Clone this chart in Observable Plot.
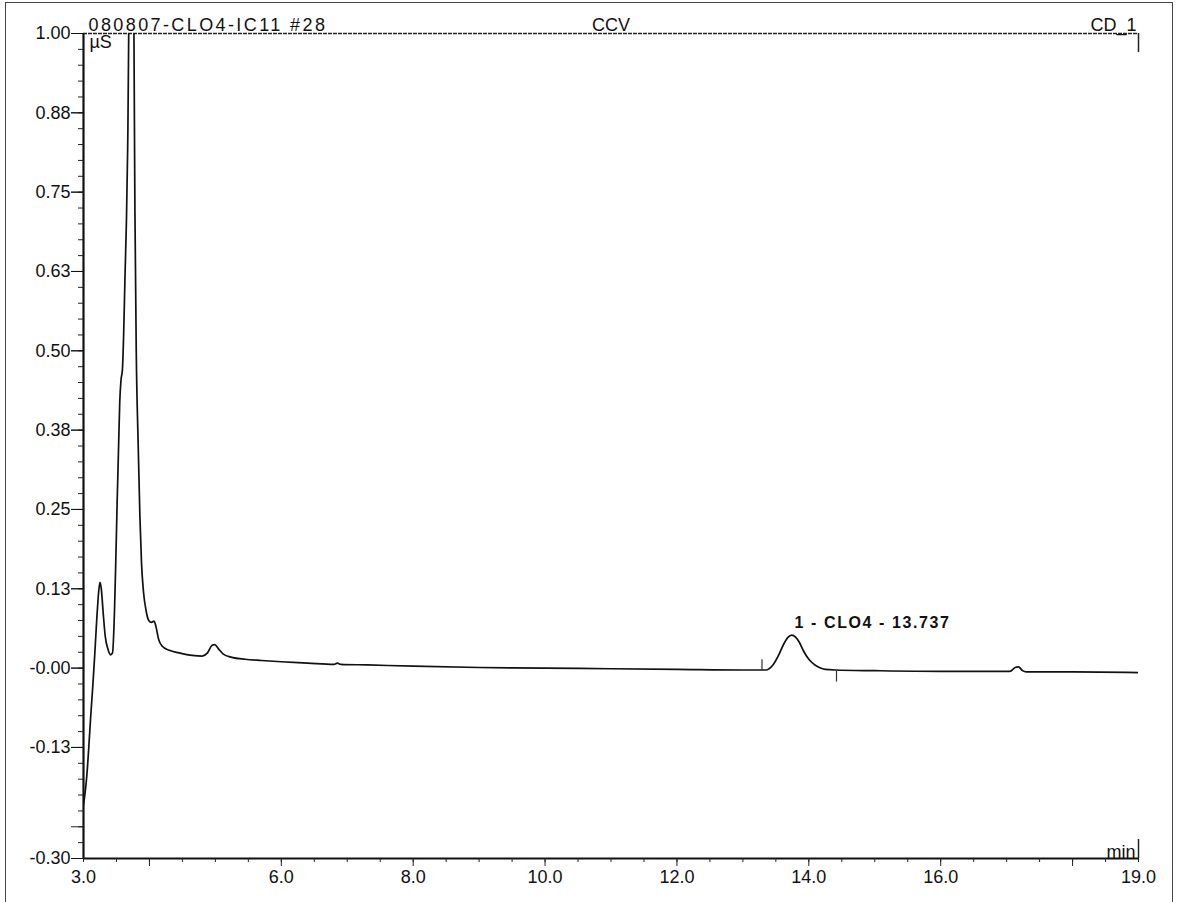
<!DOCTYPE html>
<html><head><meta charset="utf-8">
<script src="https://cdn.jsdelivr.net/npm/d3@7"></script>
<script src="https://cdn.jsdelivr.net/npm/@observablehq/plot@0.6"></script>
<style>
html,body{margin:0;padding:0;background:#fff;}
#wrap{position:relative;width:1179px;height:902px;overflow:hidden;}
#page{position:absolute;left:5px;top:2px;width:1168px;height:920px;border:1.5px solid #444;box-sizing:border-box;}
#chart{position:absolute;left:0;top:0;}
</style></head><body>
<div id="wrap"><div id="page"></div><div id="chart"></div></div>
<script>
// Chromatogram trace (retention time in min, conductivity in µS)
const time = [3.00,3.02,3.05,3.08,3.11,3.14,3.17,3.20,3.23,3.25,3.27,3.30,3.33,3.37,3.41,3.44,3.47,3.49,3.51,3.53,3.55,3.57,3.59,3.61,3.63,3.65,3.67,3.69,3.71,3.73,3.75,3.765,3.78,3.80,3.83,3.855,3.88,3.91,3.95,3.99,4.03,4.07,4.10,4.14,4.20,4.30,4.45,4.65,4.80,4.88,4.95,4.99,5.05,5.12,5.25,5.45,5.70,6.0,6.4,6.8,6.85,6.9,7.3,8.0,9.0,10.0,11.0,12.0,13.0,13.35,13.45,13.55,13.62,13.68,13.74,13.80,13.86,13.92,14.00,14.08,14.16,14.25,14.4,15.0,16.0,17.05,17.13,17.18,17.24,17.3,18.0,19.0];
const signal = [-0.215,-0.20,-0.17,-0.125,-0.075,-0.03,0.02,0.075,0.12,0.135,0.125,0.085,0.05,0.03,0.021,0.024,0.09,0.17,0.26,0.34,0.42,0.455,0.47,0.53,0.62,0.70,0.82,1.05,1.6,2.0,1.5,1.0,0.72,0.50,0.35,0.24,0.165,0.12,0.09,0.075,0.072,0.074,0.065,0.045,0.034,0.028,0.024,0.020,0.019,0.024,0.036,0.037,0.030,0.022,0.017,0.014,0.012,0.010,0.008,0.006,0.008,0.006,0.005,0.003,0.001,0.000,-0.001,-0.002,-0.003,-0.003,0.004,0.022,0.038,0.048,0.052,0.049,0.040,0.027,0.014,0.006,0.001,-0.002,-0.003,-0.004,-0.005,-0.005,0.001,0.002,-0.004,-0.006,-0.006,-0.007];

// Axis ticks and labels
const yTickValues = [1, 0.875, 0.75, 0.625, 0.5, 0.375, 0.25, 0.125, 0, -0.125, -0.3];
const yTickLabels = ["1.00","0.88","0.75","0.63","0.50","0.38","0.25","0.13","-0.00","-0.13","-0.30"];
const yMajorTicks = [1, 0.875, 0.75, 0.625, 0.5, 0.375, 0.25, 0.125, 0, -0.125, -0.25, -0.3];
const yMinorTicks = d3.range(-0.3, 1.0001, 0.025);
const xTickValues = [3, 6, 8, 10, 12, 14, 16, 19];
const xTickLabels = ["3.0","6.0","8.0","10.0","12.0","14.0","16.0","19.0"];
const xMajorTicks = [4, 6, 8, 10, 12, 14, 16, 18];
const xMinorTicks = d3.range(3, 19.001, 0.5);

// Peak annotation
const peakTime = [13.737];
const peakHeight = [0.052];
const peakLabels = ["1 - CLO4 - 13.737"];
const delimiterTime = [13.29, 14.42];
const delimiterFrom = [-0.004, -0.005];
const delimiterTo = [0.013, -0.022];

// Header texts
const headerLeft = ["080807-CLO4-IC11 #28"];
const headerCenter = ["CCV"];
const headerRight = ["CD_1"];
const yUnit = ["µS"];
const xUnit = ["min"];

const trace = time.map((t, i) => ({t, v: signal[i]}));
const peaks = peakTime.map((t, i) => ({t, v: peakHeight[i], label: peakLabels[i]}));
const delims = delimiterTime.map((t, i) => ({t, y1: delimiterFrom[i], y2: delimiterTo[i]}));

const font = "Liberation Sans, Arial, Helvetica, sans-serif";
const fs = 18;

const chart = Plot.plot({
  width: 1179,
  height: 902,
  marginLeft: 83,
  marginRight: 41,
  marginTop: 33,
  marginBottom: 44,
  style: {fontFamily: font, fontSize: fs + "px", color: "#111", background: "transparent", overflow: "visible"},
  x: {domain: [3, 19], label: null},
  y: {domain: [-0.3, 1.0], label: null},
  marks: [
    // frame lines
    Plot.ruleY([1], {stroke: "#222", strokeWidth: 1.5, strokeDasharray: "4,1"}),
    Plot.ruleY([-0.3], {stroke: "#111", strokeWidth: 2.2}),
    Plot.ruleX([3], {stroke: "#111", strokeWidth: 2.2}),
    Plot.ruleX([19], {y1: 1.0, y2: 0.97, stroke: "#222", strokeWidth: 1.5}),
    Plot.ruleX([19], {y1: -0.3, y2: -0.27, stroke: "#222", strokeWidth: 1.5}),
    // x ticks
    Plot.axisX(xMinorTicks, {anchor: "bottom", tickSize: 4, tickFormat: () => "", label: null, stroke: "#222"}),
    Plot.axisX(xMajorTicks, {anchor: "bottom", tickSize: 8, tickFormat: () => "", label: null, stroke: "#222"}),
    Plot.axisX(xTickValues, {anchor: "bottom", tickSize: 0, tickPadding: 12, label: null, fontSize: fs,
      tickFormat: d => xTickLabels[xTickValues.indexOf(d)]}),
    // y ticks
    Plot.axisY(yMinorTicks, {anchor: "left", tickSize: 5, tickFormat: () => "", label: null, stroke: "#222"}),
    Plot.axisY(yMajorTicks, {anchor: "left", tickSize: 12, tickFormat: () => "", label: null, stroke: "#222"}),
    Plot.axisY(yTickValues, {anchor: "left", tickSize: 12, tickPadding: 1, label: null, fontSize: fs,
      tickFormat: d => yTickLabels[yTickValues.indexOf(d)]}),
    // trace
    Plot.line(trace, {x: "t", y: "v", stroke: "#111", strokeWidth: 1.7, curve: "monotone-x", clip: true}),
    // peak delimiters
    Plot.ruleX(delims, {x: "t", y1: "y1", y2: "y2", stroke: "#333", strokeWidth: 1.2}),
    // peak label
    Plot.text(peaks, {x: "t", y: "v", text: "label", textAnchor: "start", dx: 3, dy: -12, fontWeight: "bold", fontSize: 16, fill: "#111", className: "peaklabel"}),
    // header
    Plot.text(headerLeft, {frameAnchor: "top-left", text: d => d, textAnchor: "start", lineAnchor: "bottom", dx: 5, dy: -3, fontSize: fs, fill: "#111", className: "hdrleft"}),
    Plot.text(headerCenter, {frameAnchor: "top", text: d => d, lineAnchor: "bottom", dy: -3, fontSize: fs, fill: "#111"}),
    Plot.text(headerRight, {frameAnchor: "top-right", text: d => d, textAnchor: "end", lineAnchor: "bottom", dx: -2, dy: -3, fontSize: fs, fill: "#111"}),
    Plot.text(yUnit, {frameAnchor: "top-left", text: d => d, textAnchor: "start", lineAnchor: "top", dx: 6, dy: 2, fontSize: fs, fill: "#111"}),
    Plot.text(xUnit, {frameAnchor: "bottom-right", text: d => d, textAnchor: "end", lineAnchor: "bottom", dx: -3, dy: -1, fontSize: fs, fill: "#111"})
  ]
});
d3.select(chart).selectAll(".hdrleft text").style("letter-spacing", "2.4px");
d3.select(chart).selectAll(".peaklabel text").style("letter-spacing", "1.6px");
document.getElementById("chart").appendChild(chart);
</script>
</body></html>
